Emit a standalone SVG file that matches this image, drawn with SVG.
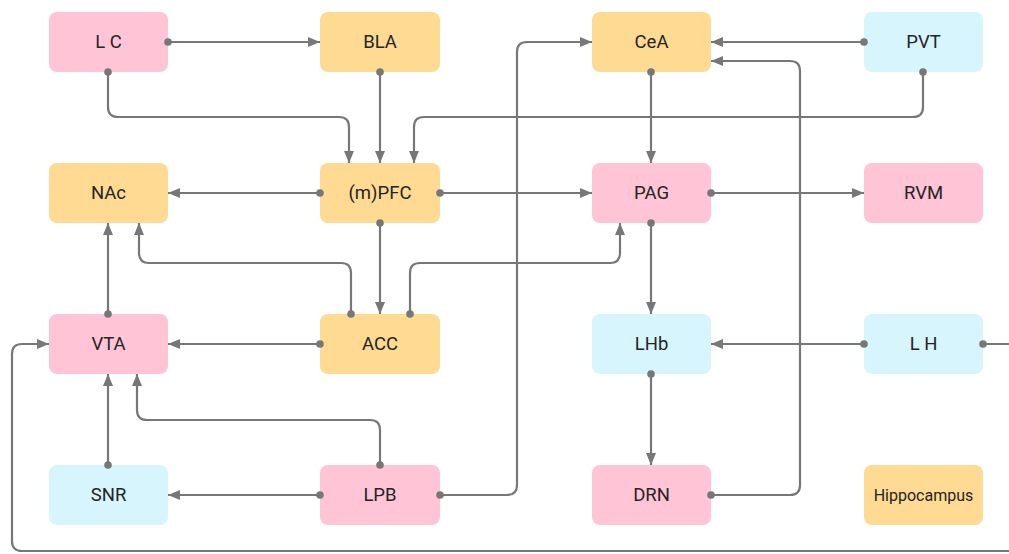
<svg xmlns="http://www.w3.org/2000/svg" width="1009" height="554" viewBox="0 0 1009 554">
<style>
.n rect{rx:8;ry:8}
.pink{fill:#FFC4D6}
.orange{fill:#FFDA93}
.blue{fill:#D6F5FD}
.n text{font-family:Roboto,"Liberation Sans",sans-serif;font-size:18.5px;fill:#242424;text-anchor:middle;dominant-baseline:central}
.c path{fill:none;stroke:#777;stroke-width:2.2;marker-start:url(#dot);marker-end:url(#arr)}
</style>
<defs>
<marker id="arr" viewBox="0 0 12 10" refX="12" refY="5" markerWidth="12" markerHeight="10" markerUnits="userSpaceOnUse" orient="auto"><path d="M0,0 L12,5 L0,10 z" fill="#777"/></marker>
<marker id="dot" viewBox="0 0 8 8" refX="4" refY="4" markerWidth="8" markerHeight="8" markerUnits="userSpaceOnUse"><circle cx="4" cy="4" r="3.8" fill="#777"/></marker>
</defs>
<rect width="1009" height="554" fill="#fff"/>
<g class="n" id="LC"><rect class="pink" x="49" y="12" width="119" height="60"/><text x="108.5" y="42">L C</text></g>
<g class="n" id="BLA"><rect class="orange" x="320" y="12" width="120" height="60"/><text x="380" y="42">BLA</text></g>
<g class="n" id="CeA"><rect class="orange" x="592" y="12" width="119" height="60"/><text x="651.5" y="42">CeA</text></g>
<g class="n" id="PVT"><rect class="blue" x="864" y="12" width="119" height="60"/><text x="923.5" y="42">PVT</text></g>
<g class="n" id="NAc"><rect class="orange" x="49" y="163" width="119" height="60"/><text x="108.5" y="193">NAc</text></g>
<g class="n" id="PFC"><rect class="orange" x="320" y="163" width="120" height="60"/><text x="380" y="193">(m)PFC</text></g>
<g class="n" id="PAG"><rect class="pink" x="592" y="163" width="119" height="60"/><text x="651.5" y="193">PAG</text></g>
<g class="n" id="RVM"><rect class="pink" x="864" y="163" width="119" height="60"/><text x="923.5" y="193">RVM</text></g>
<g class="n" id="VTA"><rect class="pink" x="49" y="314" width="119" height="60"/><text x="108.5" y="344">VTA</text></g>
<g class="n" id="ACC"><rect class="orange" x="320" y="314" width="120" height="60"/><text x="380" y="344">ACC</text></g>
<g class="n" id="LHb"><rect class="blue" x="592" y="314" width="119" height="60"/><text x="651.5" y="344">LHb</text></g>
<g class="n" id="LH"><rect class="blue" x="864" y="314" width="119" height="60"/><text x="923.5" y="344">L H</text></g>
<g class="n" id="SNR"><rect class="blue" x="49" y="465" width="119" height="60"/><text x="108.5" y="495">SNR</text></g>
<g class="n" id="LPB"><rect class="pink" x="320" y="465" width="120" height="60"/><text x="380" y="495">LPB</text></g>
<g class="n" id="DRN"><rect class="pink" x="592" y="465" width="119" height="60"/><text x="651.5" y="495">DRN</text></g>
<g class="n" id="Hippocampus"><rect class="orange" x="864" y="465" width="119" height="60"/><text x="923.5" y="495" style="font-size:16px">Hippocampus</text></g>
<g class="c" id="connectors">
<path d="M168,42 H320"/>
<path d="M108,72 V107 Q108,117 118,117 H339 Q349,117 349,127 V163"/>
<path d="M380,72 V163"/>
<path d="M923,72 V107 Q923,117 913,117 H424 Q414,117 414,127 V163"/>
<path d="M320,193 H168"/>
<path d="M440,193 H592"/>
<path d="M380,223 V314"/>
<path d="M351,314 V273 Q351,263 341,263 H149 Q139,263 139,253 V223"/>
<path d="M410,314 V273 Q410,263 420,263 H610 Q620,263 620,253 V223"/>
<path d="M108,314 V223"/>
<path d="M320,344 H168"/>
<path d="M108,465 V374"/>
<path d="M380,465 V430 Q380,420 370,420 H147 Q137,420 137,410 V374"/>
<path d="M320,495 H168"/>
<path d="M440,495 H507 Q517,495 517,485 V52 Q517,42 527,42 H592"/>
<path d="M651,72 V163"/>
<path d="M864,42 H711"/>
<path d="M711,495 H790 Q800,495 800,485 V71 Q800,61 790,61 H711"/>
<path d="M711,193 H864"/>
<path d="M651,223 V314"/>
<path d="M864,344 H711"/>
<path d="M651,374 V465"/>
<path d="M983,344 H1020 Q1030,344 1030,354 V541 Q1030,551 1020,551 H22 Q12,551 12,541 V354 Q12,344 22,344 H49"/>
</g>
</svg>
